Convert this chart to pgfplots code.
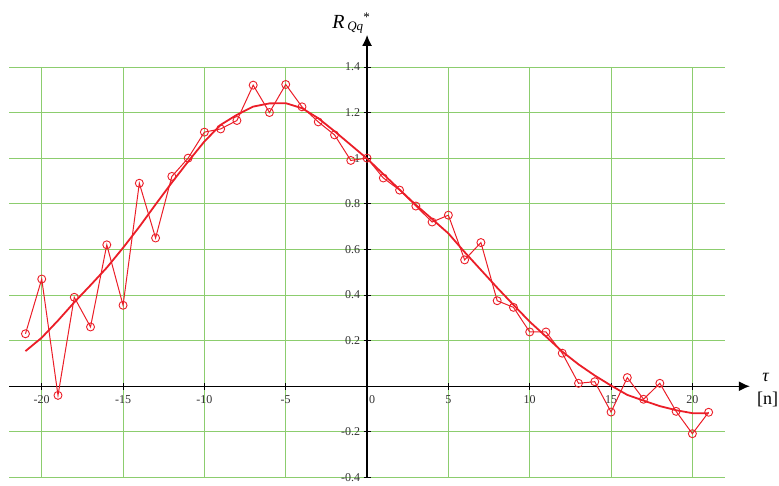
\documentclass[border=0pt]{standalone}
\usepackage{fontspec}
\setmainfont{Liberation Serif}
\usepackage{pgfplots}
\pgfplotsset{compat=1.18}
\usepackage{pgfplotstable}
\usetikzlibrary{arrows.meta}

\definecolor{gridgreen}{RGB}{140,205,110}
\definecolor{curvered}{RGB}{235,30,40}
\definecolor{ticktext}{RGB}{50,50,50}

% sample autocorrelation estimate
\pgfplotstableread{
n    r
-21  0.23
-20  0.47
-19 -0.04
-18  0.39
-17  0.26
-16  0.62
-15  0.355
-14  0.89
-13  0.65
-12  0.92
-11  1.00
-10  1.114
-9   1.128
-8   1.165
-7   1.32
-6   1.20
-5   1.323
-4   1.225
-3   1.159
-2   1.102
-1   0.99
0    1.00
1    0.913
2    0.86
3    0.79
4    0.72
5    0.75
6    0.554
7    0.63
8    0.375
9    0.346
10   0.238
11   0.238
12   0.145
13   0.013
14   0.02
15  -0.113
16   0.038
17  -0.057
18   0.013
19  -0.11
20  -0.208
21  -0.114
}\samples

% smoothed approximation
\pgfplotstableread{
n    r
-21  0.154
-20  0.213
-19  0.288
-18  0.368
-17  0.443
-16  0.520
-15  0.607
-14  0.699
-13  0.797
-12  0.893
-11  0.985
-10  1.073
-9   1.146
-8   1.190
-7   1.226
-6   1.240
-5   1.241
-4   1.219
-3   1.175
-2   1.118
-1   1.058
0    0.998
1    0.930
2    0.862
3    0.795
4    0.733
5    0.670
6    0.588
7    0.510
8    0.432
9    0.357
10   0.283
11   0.218
12   0.152
13   0.096
14   0.047
15   0.003
16  -0.038
17  -0.063
18  -0.087
19  -0.105
20  -0.118
21  -0.118
}\fitted

\begin{document}
\begin{tikzpicture}
\begin{axis}[
  scale only axis,
  width=715.7pt, height=410.6pt,
  xmin=-22, xmax=22, ymin=-0.4, ymax=1.4,
  axis lines=middle,
  axis line style={line width=1.5pt, black},
  x axis line style={-{Latex[length=11pt,width=10pt]}, shorten >=-25pt},
  y axis line style={-{Latex[length=11pt,width=10pt]}, shorten >=-32pt},
  xtick={-20,-15,-10,-5,5,10,15,20},
  extra x ticks={0},
  extra x tick style={grid=none, xticklabel style={xshift=5pt}},
  hide obscured x ticks=false,
  hide obscured y ticks=false,
  ytick={-0.4,-0.2,0.2,0.4,0.6,0.8,1.0,1.2,1.4},
  grid=major,
  major grid style={gridgreen, line width=0.8pt},
  tick style={black, line width=0.8pt},
  major tick length=7pt,
  tick align=center,
  tick label style={font=\fontsize{12}{14}\selectfont, text=ticktext},
  xticklabel style={yshift=-2pt},
  /pgf/number format/assume math mode=true,
  clip=false,
]
\addplot[curvered, line width=1pt, mark=o, mark size=4pt,
  mark options={line width=0.9pt, solid}] table[x=n, y=r] {\samples};
\addplot[curvered, line width=1.8pt, no marks] table[x=n, y=r] {\fitted};

\coordinate (sw) at (axis cs:-22,-0.4);

\node[anchor=base west, font=\fontsize{20}{24}\selectfont\itshape, inner sep=0pt]
  at ([xshift=-35pt, yshift=38.3pt]axis cs:0,1.4) {R};
\node[anchor=base west, font=\fontsize{13}{15}\selectfont\itshape, inner sep=0pt]
  at ([xshift=-20pt, yshift=36.3pt]axis cs:0,1.4) {Qq};
\node[anchor=base, font=\fontsize{13}{15}\selectfont, inner sep=0pt]
  at ([xshift=-0.5pt, yshift=45.8pt]axis cs:0,1.4) {*};

\node[anchor=base west, font=\fontsize{18}{22}\selectfont\itshape, inner sep=0pt]
  at ([xshift=37.2pt, yshift=4.6pt]axis cs:22,0) {τ};
\node[anchor=base west, font=\fontsize{18}{22}\selectfont, inner sep=0pt]
  at ([xshift=31.9pt, yshift=-18.7pt]axis cs:22,0) {[n]};
\end{axis}
\pgfresetboundingbox
\path[use as bounding box] ([shift={(-9.2pt,-7.5pt)}]sw) rectangle ([shift={(769.8pt,477.5pt)}]sw);
\end{tikzpicture}
\end{document}
